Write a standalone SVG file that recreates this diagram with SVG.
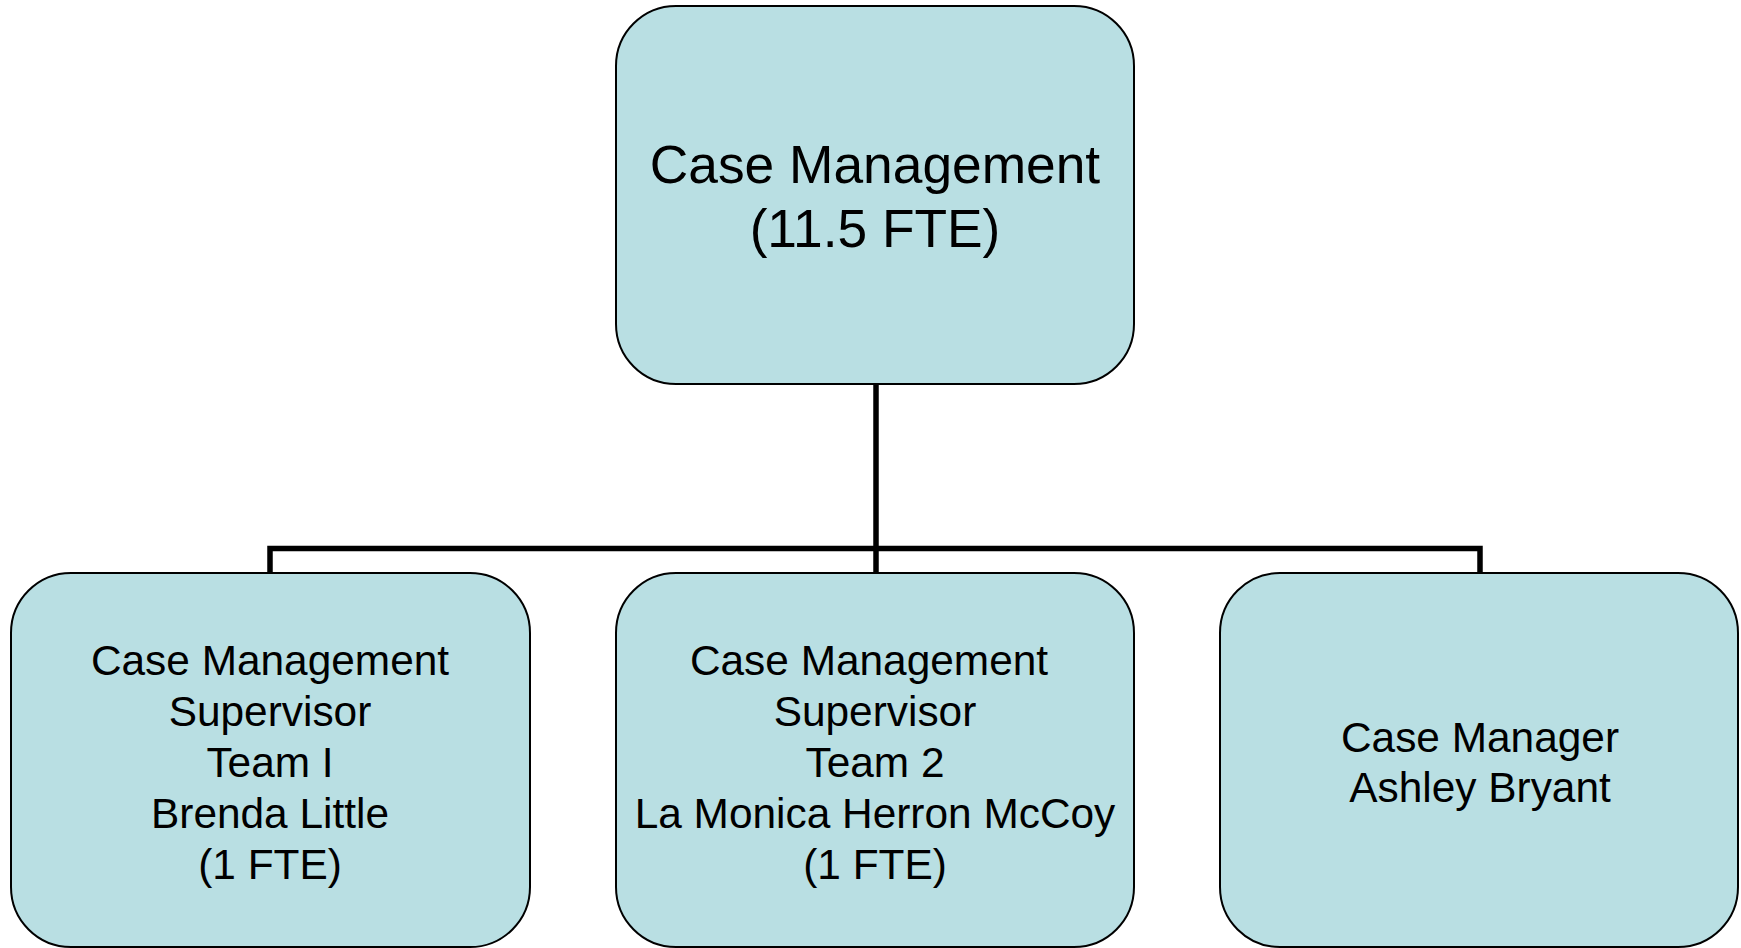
<svg xmlns="http://www.w3.org/2000/svg" width="1741" height="948" viewBox="0 0 1741 948">
<style>
.box{fill:#B9DFE3;stroke:#000;stroke-width:2}
.t{font-family:"Liberation Sans",Arial,sans-serif;fill:#000;text-anchor:middle}
.big{font-size:53.3px}
.sm{font-size:42.4px}
.conn{fill:none;stroke:#000;stroke-width:5.5}
</style>
<rect width="1741" height="948" fill="#fff"/>
<g id="connectors">
<path class="conn" d="M876 384 V573"/>
<path class="conn" d="M270 573 V548.5 H1480 V573"/>
</g>
<g id="top">
<rect class="box" x="616" y="6" width="518" height="378" rx="60"/>
<text class="t big" x="875" y="183">Case Management</text>
<text class="t big" x="875" y="247">(11.5 FTE)</text>
</g>
<g id="team1">
<rect class="box" x="11" y="573" width="519" height="374" rx="60"/>
<text class="t sm" x="270" y="675">Case Management</text>
<text class="t sm" x="270" y="726">Supervisor</text>
<text class="t sm" x="270" y="777">Team I</text>
<text class="t sm" x="270" y="828">Brenda Little</text>
<text class="t sm" x="270" y="879">(1 FTE)</text>
</g>
<g id="team2">
<rect class="box" x="616" y="573" width="518" height="374" rx="60"/>
<text class="t sm" x="869" y="675">Case Management</text>
<text class="t sm" x="875" y="726">Supervisor</text>
<text class="t sm" x="875" y="777">Team 2</text>
<text class="t sm" x="875" y="828">La Monica Herron McCoy</text>
<text class="t sm" x="875" y="879">(1 FTE)</text>
</g>
<g id="manager">
<rect class="box" x="1220" y="573" width="518" height="374" rx="60"/>
<text class="t sm" x="1480" y="752">Case Manager</text>
<text class="t sm" x="1480" y="802">Ashley Bryant</text>
</g>
</svg>
